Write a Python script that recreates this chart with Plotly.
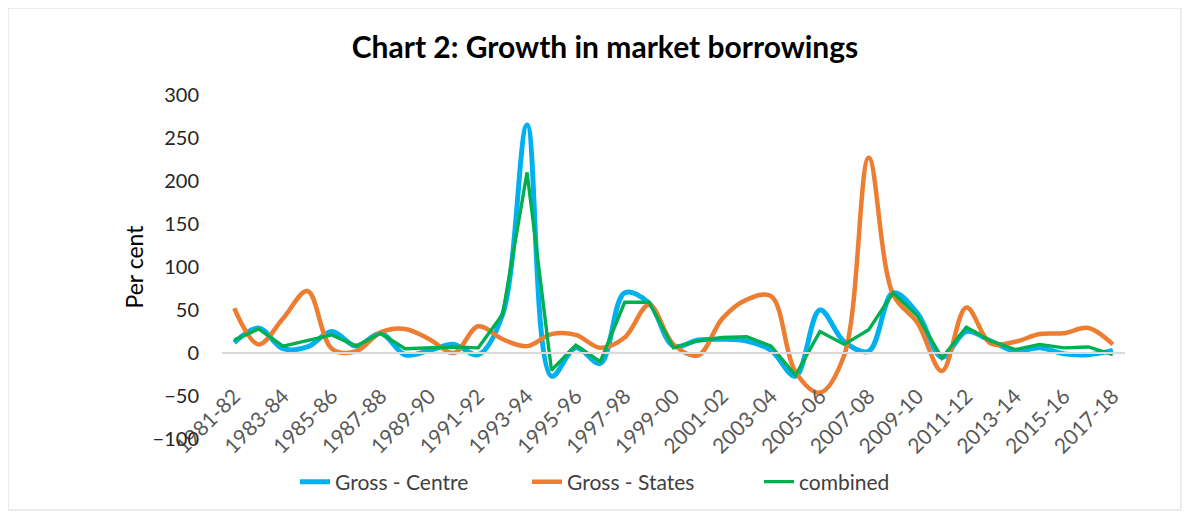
import plotly.graph_objects as go

years = ["1981-82", "1982-83", "1983-84", "1984-85", "1985-86", "1986-87", "1987-88", "1988-89",
         "1989-90", "1990-91", "1991-92", "1992-93", "1993-94", "1994-95", "1995-96", "1996-97",
         "1997-98", "1998-99", "1999-00", "2000-01", "2001-02", "2002-03", "2003-04", "2004-05",
         "2005-06", "2006-07", "2007-08", "2008-09", "2009-10", "2010-11", "2011-12", "2012-13",
         "2013-14", "2014-15", "2015-16", "2016-17", "2017-18"]

gross_centre = [12, 29, 5, 7, 25, 8, 23, -2, 3, 10, -2, 45, 265, -27, 6, -12, 70, 58, 8, 15,
                16, 14, 3, -27, 50, 13, 2, 70, 46, -5, 25, 14, 2, 6, -1, -2, 3]

gross_states = [52, 10, 40, 72, 5, 2, 24, 28, 16, 0, 31, 16, 8, 22, 21, 6, 18, 56, 10, -3,
                40, 62, 66, -22, -46, -2, 227, 68, 35, -21, 53, 11, 13, 22, 23, 29, 10]

combined = [15, 28, 8, 15, 21, 8, 23, 5, 6, 7, 6, 45, 210, -20, 9, -10, 59, 59, 6, 14,
            18, 19, 8, -26, 25, 10, 27, 70, 43, -6, 30, 14, 4, 10, 6, 7, -2]

tick_labels = years[::2]

FONT = "Lato"

fig = go.Figure()
fig.add_trace(go.Scatter(x=years, y=gross_centre, name="Gross - Centre", mode="lines",
                         line=dict(color="#00B0F0", width=5, shape="spline", smoothing=1)))
fig.add_trace(go.Scatter(x=years, y=gross_states, name="Gross - States", mode="lines",
                         line=dict(color="#ED7D31", width=4.5, shape="spline", smoothing=1)))
fig.add_trace(go.Scatter(x=years, y=combined, name="combined", mode="lines",
                         line=dict(color="#00B050", width=3.4)))

# page body has an 8px margin, so layout is expressed in figure pixels (reference - 8)
L, R, T, B = 214, 1117, 87, 431
W, H = 1199, 516
PH = B - T
PW = R - L

fig.update_layout(
    width=W, height=H,
    margin=dict(l=L, r=W - R, t=T, b=H - B, autoexpand=False),
    paper_bgcolor="white", plot_bgcolor="white",
    font=dict(family=FONT, color="#404040", size=20),
    title=dict(text="<b>Chart 2: Growth in market borrowings</b>", x=597 / W, y=1 - 39 / H,
               xanchor="center", yanchor="middle",
               font=dict(family=FONT, size=30, color="#000000")),
    showlegend=True,
    legend=dict(orientation="h", x=(635 - L) / PW, y=(B - 474) / PH, xanchor="center",
                yanchor="middle", font=dict(family=FONT, size=21, color="#404040"),
                entrywidth=187, bgcolor="rgba(0,0,0,0)"),
    xaxis=dict(type="category", categoryorder="array", categoryarray=years,
               tickmode="array", tickvals=tick_labels, ticktext=tick_labels,
               tickangle=-45, tickfont=dict(family=FONT, size=21, color="#595959"),
               showgrid=False, zeroline=False, showline=True, linecolor="#D9D9D9",
               linewidth=1.5, ticks="", anchor="free", position=0.25,
               ticklabelstandoff=22, range=[-0.5, 36.5]),
    yaxis=dict(range=[-100, 300], tickvals=[-100, -50, 0, 50, 100, 150, 200, 250, 300],
               showgrid=False, zeroline=False, showline=False, ticks="",
               tickfont=dict(family=FONT, size=20, color="#262626"),
               ticklabelstandoff=22,
               title=dict(text="Per cent", font=dict(family=FONT, size=23, color="#000000"),
                          standoff=2)),
    shapes=[dict(type="rect", xref="paper", yref="paper",
                 x0=(0 - L) / PW, x1=(1173 - L) / PW,
                 y0=(B - 502) / PH, y1=(B - 0) / PH,
                 line=dict(color="#D9D9D9", width=1), fillcolor="rgba(0,0,0,0)", layer="below")],
)

fig.write_html("out.html")
